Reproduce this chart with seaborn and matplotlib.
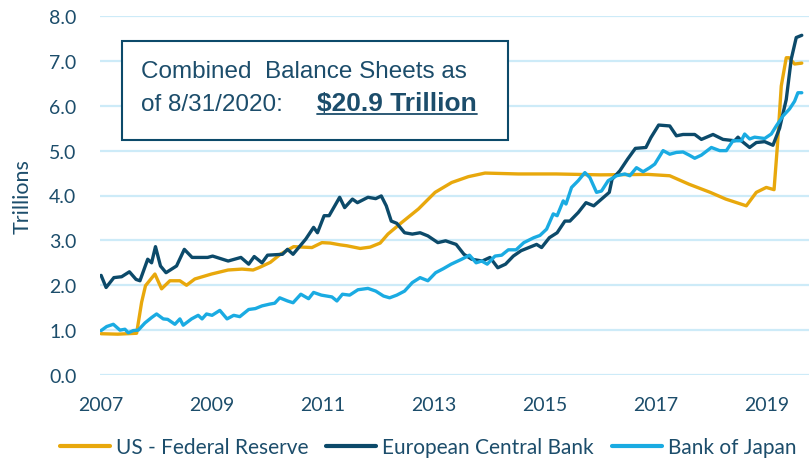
import matplotlib
matplotlib.use('Agg')
import matplotlib.pyplot as plt
import seaborn as sns
from matplotlib.patches import Rectangle
from matplotlib.lines import Line2D

# values (trillions, x in decimal years)
fed_x = [2007.0, 2007.3, 2007.64, 2007.73, 2007.8, 2007.97, 2008.09, 2008.24, 2008.42, 2008.54,
         2008.69, 2008.99, 2009.29, 2009.54, 2009.74, 2009.86, 2010.05, 2010.23, 2010.47, 2010.8,
         2010.98, 2011.13, 2011.31, 2011.43, 2011.67, 2011.85, 2012.03, 2012.17, 2012.42, 2012.72,
         2013.02, 2013.32, 2013.62, 2013.92, 2014.52, 2015.2, 2016.0, 2016.86, 2017.25, 2017.6,
         2017.98, 2018.26, 2018.63, 2018.81, 2018.99, 2019.13, 2019.19, 2019.26, 2019.35, 2019.4,
         2019.5, 2019.63]
fed_y = [0.92, 0.91, 0.93, 1.62, 1.99, 2.25, 1.92, 2.1, 2.1, 2.0,
         2.14, 2.25, 2.34, 2.36, 2.34, 2.4, 2.51, 2.69, 2.86, 2.84,
         2.95, 2.94, 2.9, 2.88, 2.82, 2.85, 2.94, 3.14, 3.4, 3.7,
         4.07, 4.29, 4.42, 4.5, 4.48, 4.48, 4.46, 4.47, 4.44, 4.25,
         4.07, 3.92, 3.77, 4.07, 4.18, 4.13, 5.1, 6.44, 7.07, 7.07,
         6.93, 6.95]

ecb_x = [2007.0, 2007.09, 2007.23, 2007.37, 2007.51, 2007.63, 2007.7, 2007.84, 2007.91, 2007.98,
         2008.07, 2008.17, 2008.36, 2008.5, 2008.64, 2008.92, 2009.01, 2009.29, 2009.52, 2009.66,
         2009.76, 2009.9, 2010.0, 2010.27, 2010.36, 2010.46, 2010.69, 2010.83, 2010.9, 2011.02,
         2011.11, 2011.3, 2011.39, 2011.53, 2011.62, 2011.81, 2011.95, 2012.05, 2012.14, 2012.23,
         2012.33, 2012.47, 2012.61, 2012.75, 2012.89, 2013.07, 2013.21, 2013.4, 2013.54, 2013.68,
         2013.87, 2014.01, 2014.15, 2014.29, 2014.43, 2014.57, 2014.71, 2014.85, 2014.94, 2015.08,
         2015.22, 2015.36, 2015.45, 2015.6, 2015.74, 2015.88, 2016.02, 2016.16, 2016.21, 2016.35,
         2016.49, 2016.63, 2016.82, 2016.91, 2017.05, 2017.25, 2017.37, 2017.49, 2017.7, 2017.82,
         2018.03, 2018.21, 2018.42, 2018.48, 2018.54, 2018.69, 2018.81, 2018.96, 2019.11, 2019.23,
         2019.35, 2019.44, 2019.53, 2019.63]
ecb_y = [2.22, 1.95, 2.17, 2.19, 2.3, 2.13, 2.1, 2.58, 2.5, 2.86,
         2.43, 2.28, 2.43, 2.8, 2.62, 2.62, 2.65, 2.54, 2.62, 2.47,
         2.64, 2.5, 2.67, 2.69, 2.8, 2.69, 3.03, 3.29, 3.17, 3.55,
         3.55, 3.96, 3.73, 3.92, 3.84, 3.96, 3.93, 3.99, 3.77, 3.43,
         3.38, 3.17, 3.14, 3.17, 3.1, 2.95, 2.99, 2.91, 2.69, 2.58,
         2.54, 2.62, 2.39, 2.47, 2.65, 2.77, 2.84, 2.91, 2.84, 3.06,
         3.17, 3.43, 3.43, 3.62, 3.84, 3.77, 3.92, 4.07, 4.36, 4.55,
         4.81, 5.05, 5.07, 5.29, 5.57, 5.55, 5.33, 5.36, 5.36, 5.25,
         5.36, 5.25, 5.22, 5.3, 5.22, 5.07, 5.18, 5.2, 5.12, 5.5,
         6.14, 7.04, 7.52, 7.57]

boj_x = [2007.0, 2007.1, 2007.22, 2007.34, 2007.43, 2007.49, 2007.58, 2007.67, 2007.79, 2007.91,
         2008.0, 2008.12, 2008.2, 2008.33, 2008.42, 2008.48, 2008.63, 2008.75, 2008.82, 2008.9,
         2009.0, 2009.14, 2009.27, 2009.39, 2009.5, 2009.66, 2009.78, 2009.9, 2010.04, 2010.13,
         2010.22, 2010.36, 2010.46, 2010.6, 2010.74, 2010.83, 2010.97, 2011.16, 2011.25, 2011.35,
         2011.48, 2011.63, 2011.81, 2011.95, 2012.09, 2012.2, 2012.33, 2012.47, 2012.61, 2012.75,
         2012.89, 2013.03, 2013.17, 2013.31, 2013.5, 2013.64, 2013.76, 2013.86, 2013.96, 2014.1,
         2014.22, 2014.34, 2014.48, 2014.62, 2014.8, 2014.91, 2015.03, 2015.15, 2015.22, 2015.33,
         2015.38, 2015.48, 2015.6, 2015.72, 2015.81, 2015.93, 2016.02, 2016.14, 2016.29, 2016.44,
         2016.53, 2016.65, 2016.77, 2016.89, 2016.98, 2017.13, 2017.25, 2017.37, 2017.49, 2017.6,
         2017.7, 2017.82, 2018.0, 2018.15, 2018.27, 2018.39, 2018.54, 2018.6, 2018.69, 2018.78,
         2018.96, 2019.08, 2019.17, 2019.29, 2019.41, 2019.5, 2019.56, 2019.63]
boj_y = [0.99, 1.08, 1.13, 1.0, 1.02, 0.94, 0.99, 1.0, 1.16, 1.28,
         1.36, 1.25, 1.24, 1.13, 1.25, 1.11, 1.25, 1.33, 1.25, 1.36,
         1.33, 1.44, 1.25, 1.33, 1.3, 1.46, 1.48, 1.54, 1.58, 1.6,
         1.72, 1.65, 1.61, 1.8, 1.7, 1.84, 1.78, 1.74, 1.65, 1.8,
         1.78, 1.9, 1.93, 1.87, 1.76, 1.72, 1.78, 1.87, 2.06, 2.17,
         2.1, 2.28, 2.37, 2.47, 2.58, 2.67, 2.5, 2.54, 2.47, 2.65,
         2.67, 2.79, 2.79, 2.95, 3.06, 3.11, 3.25, 3.59, 3.55, 3.88,
         3.81, 4.18, 4.33, 4.51, 4.4, 4.07, 4.1, 4.33, 4.44, 4.48,
         4.44, 4.62, 4.53, 4.62, 4.7, 5.0, 4.92, 4.96, 4.97, 4.9,
         4.83, 4.9, 5.07, 5.0, 5.0, 5.22, 5.22, 5.37, 5.26, 5.3,
         5.27, 5.37, 5.55, 5.77, 5.93, 6.1, 6.29, 6.29]

series_names = ['US - Federal Reserve', 'European Central Bank', 'Bank of Japan']
year_ticks = [2007, 2009, 2011, 2013, 2015, 2017, 2019]
value_ticks = [0, 1, 2, 3, 4, 5, 6, 7, 8]

TEXT = '#1C4D6B'
GOLD = '#E8A80C'
NAVY = '#0C4A6A'
SKY = '#1AABE2'
GRID = '#CDEBF8'

sns.set_theme(style='white')
plt.rcParams['font.family'] = ['Lato', 'DejaVu Sans']

W, H = 811, 464
fig = plt.figure(figsize=(W / 100, H / 100), dpi=100)
ax = fig.add_axes([100 / W, 1 - 376 / H, 709 / W, 359 / H])

for name, xs, ys, c in zip(series_names, [fed_x, ecb_x, boj_x], [fed_y, ecb_y, boj_y], [GOLD, NAVY, SKY]):
    sns.lineplot(x=xs, y=ys, ax=ax, color=c, lw=2.4, label=name, estimator=None, sort=False)

ax.set_xlim(2006.98, 2019.76)
ax.set_ylim(0, 8)
ax.set_xticks(year_ticks)
ax.set_xticklabels([str(y) for y in year_ticks])
ax.set_yticks(value_ticks)
ax.set_yticklabels([f'{v:.1f}' for v in value_ticks])
ax.grid(axis='y', color=GRID, lw=1.6)
ax.set_axisbelow(True)
sns.despine(ax=ax, left=True, bottom=True)
ax.tick_params(axis='both', length=0, labelsize=14, colors=TEXT)
ax.tick_params(axis='y', pad=17)
ax.tick_params(axis='x', pad=15)
ax.set_ylabel('Trillions', fontsize=15.5, color=TEXT, labelpad=12)

handles, labels = ax.get_legend_handles_labels()
ax.get_legend().remove()
leg = fig.legend(handles, labels, loc='center', bbox_to_anchor=(428 / W, 1 - 448 / H), ncol=3,
                 frameon=False, fontsize=15, handlelength=2.4, handletextpad=0.3,
                 columnspacing=0.85, labelcolor=TEXT)
for h in leg.get_lines():
    h.set_linewidth(3)

# annotation box
fig.add_artist(Rectangle((122 / W, 1 - 141 / H), 386 / W, 99 / H, transform=fig.transFigure,
                         facecolor='white', edgecolor=NAVY, lw=1.5, zorder=5))
box_font = ['Liberation Sans', 'DejaVu Sans']
fig.text(141 / W, 1 - 78 / H, 'Combined  Balance Sheets as', fontsize=17.5, color=TEXT,
         va='baseline', family=box_font, zorder=6)
fig.text(141 / W, 1 - 111 / H, 'of 8/31/2020:', fontsize=17.5, color=TEXT,
         va='baseline', family=box_font, zorder=6)
bold = fig.text(317 / W, 1 - 111 / H, r'\$20.9 Trillion', fontsize=19, color=TEXT,
                va='baseline', fontweight='bold', family=box_font, zorder=6)
fig.canvas.draw()
bb = bold.get_window_extent()
fig.add_artist(Line2D([bb.x0 / W, bb.x1 / W], [1 - 115 / H, 1 - 115 / H], transform=fig.transFigure,
                      color=TEXT, lw=1.3, zorder=6))

fig.savefig('out.png', dpi=100)
